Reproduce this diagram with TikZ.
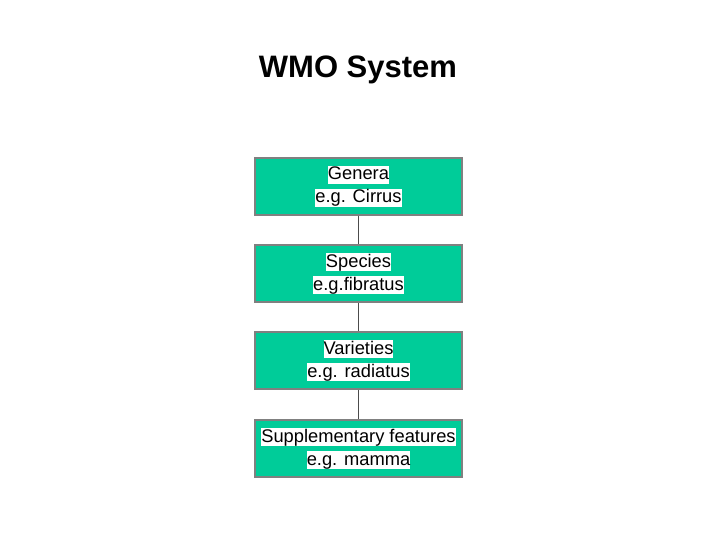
\documentclass[tikz,border=0pt]{standalone}
\usepackage{fontspec}
\setmainfont{Liberation Sans}
\usepackage{tikz}

\definecolor{boxgreen}{RGB}{0,204,153}
\definecolor{boxedge}{RGB}{128,128,128}
\newcommand{\hlline}[1]{{\setlength{\fboxsep}{0pt}\colorbox{white}{\rule[-4pt]{0pt}{18pt}#1}}}

\tikzset{
  rankbox/.style={draw=boxedge, line width=1.5pt, fill=boxgreen, minimum width=207pt, minimum height=57pt, align=center, inner sep=0pt, font=\fontsize{18.3}{23}\selectfont},
  link/.style={draw=black!70, line width=1pt}
}

\begin{document}
\begin{tikzpicture}[x=1pt,y=-1pt]
\useasboundingbox (0,0) rectangle (720,540);
\node (title) at (358,70) {\fontsize{31}{36}\selectfont\bfseries WMO System};

\node[rankbox] (genera) at (358.5,186.5) {\hlline{Genera}\\\hlline{e.g. Cirrus}};
\node[rankbox] (species) at (358.5,273.5) {\hlline{Species}\\\hlline{e.g.fibratus}};
\node[rankbox] (varieties) at (358.5,360.5) {\hlline{Varieties}\\\hlline{e.g. radiatus}};
\node[rankbox] (supplementary) at (358.5,448.5) {\hlline{Supplementary features}\\\hlline{e.g. mamma}};

\draw[link] (genera) -- (species);
\draw[link] (species) -- (varieties);
\draw[link] (varieties) -- (supplementary);
\end{tikzpicture}
\end{document}
